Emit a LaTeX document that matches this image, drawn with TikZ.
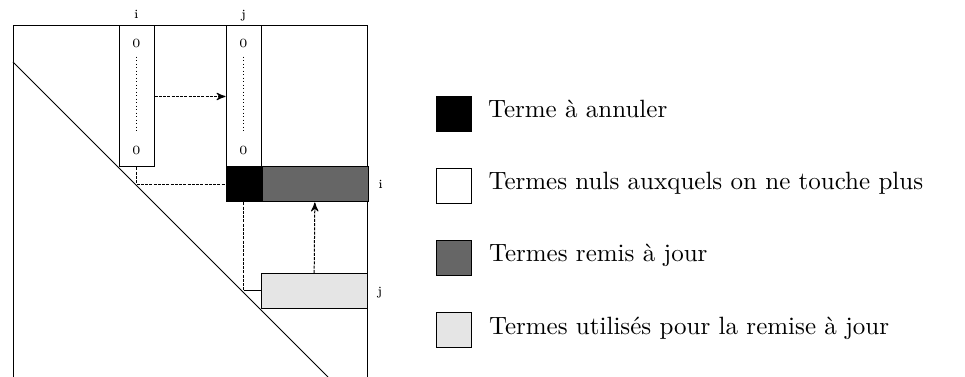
\documentclass[tikz,border=0pt]{standalone}
\usepackage{amsmath}
\usepackage{tikz}
\usetikzlibrary{arrows,positioning}

\begin{document}
\begin{tikzpicture}[x=0.4pt,y=-0.4pt,>=stealth',node distance=14.4pt,
                    inner sep=0pt]
  \tikzstyle{cell}=[draw,minimum width=14pt,minimum height=14pt]
  \tikzstyle{column}=[cell,minimum height=56.4pt]
  \tikzstyle{row}=[cell,minimum width=42.4pt]
  \tikzstyle{idx}=[font=\tiny,text depth=0pt]
  \tikzstyle{legend}=[anchor=base west]
  \tikzstyle{link}=[dash pattern=on 1.2pt off 0.5pt]

  \useasboundingbox (0,0) rectangle (965,377);
  \draw (13,377) -- (13,26) -- (367,26) -- (367,377);
  \draw (13,62) -- (328,377);

  \node[column]             (Ci) at (136.5,96.5) {};
  \node[column]             (Cj) at (243.5,96.5) {};
  \node[cell,fill=black]    (A)  at (243.5,184.5) {};
  \node[row,fill=black!60]  (Ri) [right=0pt of A] {};
  \node[row,fill=black!10]  (Rj) at (314,291) {};

  \node[idx] (Ci0) at (136.5,43) {0};
  \node[idx] (Ci1) at (136.5,150) {0};
  \node[idx] (Cj0) at (243.5,43) {0};
  \node[idx] (Cj1) at (243.5,150) {0};
  \draw[densely dotted,shorten <=3.6pt,shorten >=5.1pt] (Ci0) -- (Ci1);
  \draw[densely dotted,shorten <=3.6pt,shorten >=5.1pt] (Cj0) -- (Cj1);

  \node[idx] (li) [above=2.7pt of Ci] {i};
  \node[idx] (lj) [above=2.7pt of Cj] {j};
  \node[idx] (ri) [right=3.6pt of Ri] {i};
  \node[idx] (rj) [right=3.6pt of Rj] {j};

  \coordinate (Ki) at (Ci.south |- A.west);
  \coordinate (Kj) at (A.south |- Rj.west);
  \draw[link,->] (Ci) -- (Cj);
  \draw[link] (Ci) -- (Ki) -- (A);
  \draw[link] (A) -- (Kj);
  \draw (Kj) -- (Rj);
  \draw[link,->] (Rj) -- (Ri);

  \node[cell,fill=black]    (L1) at (453.5,114) {};
  \node[cell]               (L2) [below=of L1] {};
  \node[cell,fill=black!60] (L3) [below=of L2] {};
  \node[cell,fill=black!10] (L4) [below=of L3] {};
  \node[legend] (T1) at ([xshift=6.4pt,yshift=-1.6pt]L1.east) {Terme à annuler};
  \node[legend] (T2) at ([xshift=6.6pt,yshift=-1.4pt]L2.east) {Termes nuls auxquels on ne touche plus};
  \node[legend] (T3) at ([xshift=6.8pt,yshift=-1.6pt]L3.east) {Termes remis à jour};
  \node[legend] (T4) at ([xshift=6.8pt,yshift=-1.8pt]L4.east) {Termes utilisés pour la remise à jour};
\end{tikzpicture}
\end{document}
